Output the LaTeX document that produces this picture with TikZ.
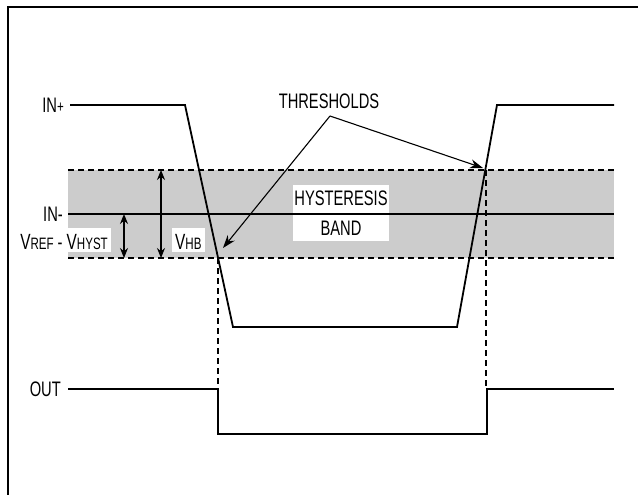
\documentclass[tikz,border=0pt]{standalone}
\usepackage{fontspec}
\setmainfont[FakeStretch=0.70]{Liberation Sans}
\usetikzlibrary{arrows.meta}
\newcommand\mainsz{\fontsize{21}{22}\selectfont}
\newcommand\subsz{\fontsize{16.5}{17}\selectfont}
\newcommand\bigV{{\fontsize{22}{22}\selectfont V}}
\tikzset{
  wave/.style={line width=1.8pt, line join=miter},
  band/.style={line width=1.3pt, dash pattern=on 6pt off 4pt},
  guide/.style={line width=1.2pt, dash pattern=on 6pt off 4pt},
  lbl/.style={font=\mainsz, inner sep=0pt},
  wlbl/.style={font=\mainsz, fill=white, inner xsep=3pt, inner ysep=0pt, text height=21pt, text depth=3pt},
  dim/.style={line width=1.3pt, {Stealth[length=10pt,width=8pt]}-{Stealth[length=10pt,width=8pt]}},
  ptr/.style={line width=1.1pt, -{Stealth[length=13pt,width=9pt]}},
}
\begin{document}
\begin{tikzpicture}[x=1pt,y=-1pt]
\useasboundingbox (0,0) rectangle (638,495);
% frame
\draw[line width=2.5pt] (8,495) -- (8,7) -- (638,7);
% hysteresis band
\fill[black!20] (68,170) rectangle (614,258);
\fill[white] (293,185) rectangle (389,241);
\node[wlbl, anchor=base east] (vref) at (111,249) {\bigV{\subsz REF} - \bigV{\subsz HYST}};
\node[wlbl, anchor=base west] (vhb) at (172,249) {\bigV{\subsz HB}};
\coordinate (bt0) at (68,170); \coordinate (bt1) at (614,170);
\coordinate (bb0) at (68,258); \coordinate (bb1) at (614,258);
\draw[band] (bt0) -- (bt1);
\draw[band] (bb0) -- (bb1);
% IN- line
\coordinate (inm0) at (68,214); \coordinate (inm1) at (614,214);
\draw[wave] (inm0) -- (inm1);
\node[lbl] (hyst) at (341,198) {HYSTERESIS};
\node[lbl] (bandt) at (341,228) {BAND};
% labels
\node[lbl, anchor=east] (inp) at (64,105) {IN{\subsz +}};
\node[lbl, anchor=east] (inmL) at (63,214) {IN-};
\node[lbl, anchor=east] (outL) at (61,389) {OUT};
% IN+ waveform
\coordinate (a0) at (70,105); \coordinate (a1) at (185,105);
\coordinate (a2) at (233,327); \coordinate (a3) at (457,327);
\coordinate (a4) at (497,105); \coordinate (a5) at (614,105);
\draw[wave] (a0) -- (a1) -- (a2) -- (a3) -- (a4) -- (a5);
% guides
\coordinate (g1t) at (218,258); \coordinate (g1b) at (218,389);
\coordinate (g2t) at (486,170); \coordinate (g2b) at (486,389);
\draw[guide] (g1t) -- (g1b);
\draw[guide] (g2t) -- (g2b);
% OUT waveform
\coordinate (o0) at (68,389); \coordinate (o1) at (218,389);
\coordinate (o2) at (218,434); \coordinate (o3) at (487,434);
\coordinate (o4) at (487,389); \coordinate (o5) at (614,389);
\draw[wave] (o0) -- (o1) -- (o2) -- (o3) -- (o4) -- (o5);
% dimension arrows
\coordinate (d1t) at (124,214); \coordinate (d1b) at (124,258);
\coordinate (d2t) at (161,170); \coordinate (d2b) at (161,258);
\draw[dim] (d1t) -- (d1b);
\draw[dim] (d2t) -- (d2b);
% thresholds
\node[lbl] (thr) at (329,101) {THRESHOLDS};
\coordinate (j) at (330,116);
\coordinate (t1) at (223,248);
\coordinate (t2) at (483,168);
\draw[ptr] (j) -- (t1);
\draw[ptr] (j) -- (t2);
\end{tikzpicture}
\end{document}
